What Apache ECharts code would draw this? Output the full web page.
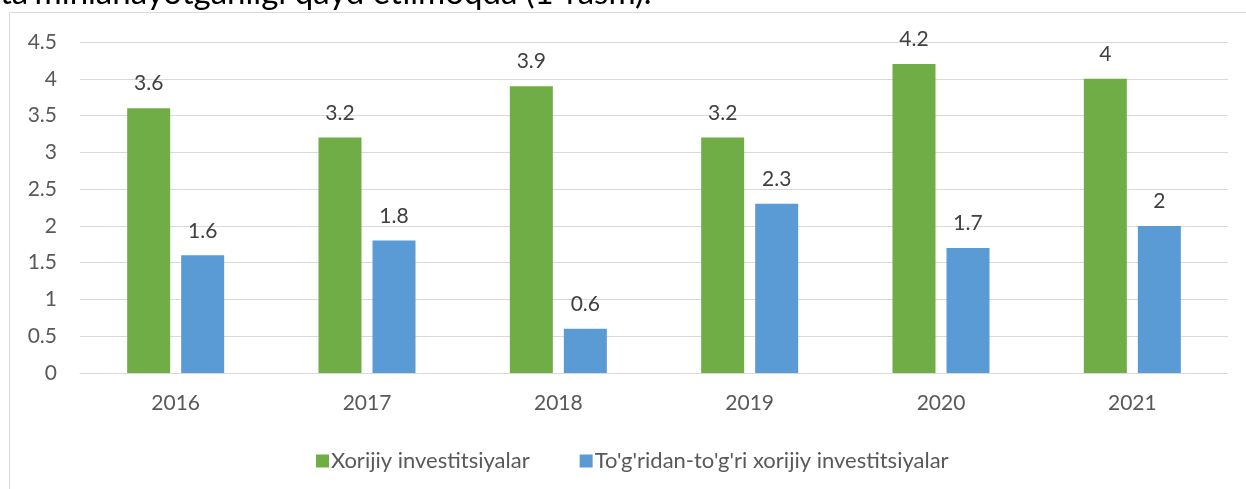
<!DOCTYPE html>
<html>
<head>
<meta charset="utf-8">
<style>
  html, body { margin: 0; padding: 0; background: #fff; }
  #chart { width: 1246px; height: 489px; }
</style>
<script src="https://cdn.jsdelivr.net/npm/echarts@6/dist/echarts.min.js"></script>
</head>
<body>
<div id="chart"></div>
<script>
const years = ['2016', '2017', '2018', '2019', '2020', '2021'];
const foreignInvest = [3.6, 3.2, 3.9, 3.2, 4.2, 4];
const directInvest = [1.6, 1.8, 0.6, 2.3, 1.7, 2];
const yTicks = { min: 0, max: 4.5, interval: 0.5 };

const font = 'Lato, "Open Sans", sans-serif';
const chart = echarts.init(document.getElementById('chart'), null, { renderer: 'canvas' });

const barLabel = {
    show: true,
    position: 'top',
    distance: 14,
    color: '#404040',
    fontSize: 21,
    fontFamily: font,
};

chart.setOption({
    backgroundColor: '#fff',
    animation: false,
    color: ['#70ad47', '#5b9bd5'],
    graphic: [
        {
            type: 'rect',
            shape: { x: 9.5, y: 12.5, width: 1400, height: 600 },
            style: { fill: 'none', stroke: '#d9d9d9', lineWidth: 1 },
        },
        {
            type: 'text',
            x: 0,
            y: -7,
            style: {
                text: "ta'minlanayotganligi qayd etilmoqda (1-rasm).",
                fontSize: 33,
                fontFamily: font,
                fill: '#000',
                verticalAlign: 'middle',
            },
        },
    ],
    legend: {
        left: 311,
        top: 445,
        itemWidth: 13,
        itemHeight: 13,
        itemGap: 50,
        icon: 'rect',
        textStyle: { color: '#595959', fontSize: 22, fontFamily: font, padding: [0, 0, 0, -3] },
        data: ['Xorijiy investitsiyalar', "To'g'ridan-to'g'ri xorijiy investitsiyalar"],
    },
    grid: { left: 80, right: 18, top: 42, bottom: 116 },
    xAxis: {
        type: 'category',
        data: years,
        axisLine: { lineStyle: { color: '#d9d9d9', width: 1 } },
        axisTick: { show: false },
        axisLabel: { color: '#595959', fontSize: 21, fontFamily: font, margin: 20 },
    },
    yAxis: {
        type: 'value',
        min: yTicks.min,
        max: yTicks.max,
        interval: yTicks.interval,
        axisLine: { show: false },
        axisTick: { show: false },
        splitLine: { lineStyle: { color: '#d9d9d9', width: 1 } },
        axisLabel: { color: '#595959', fontSize: 21, fontFamily: font, margin: 23 },
    },
    series: [
        {
            name: 'Xorijiy investitsiyalar',
            type: 'bar',
            data: foreignInvest,
            barWidth: 43,
            barGap: '25.6%',
            label: barLabel,
        },
        {
            name: "To'g'ridan-to'g'ri xorijiy investitsiyalar",
            type: 'bar',
            data: directInvest,
            barWidth: 43,
            label: barLabel,
        },
    ],
});

window.addEventListener('resize', () => chart.resize());
</script>
</body>
</html>
